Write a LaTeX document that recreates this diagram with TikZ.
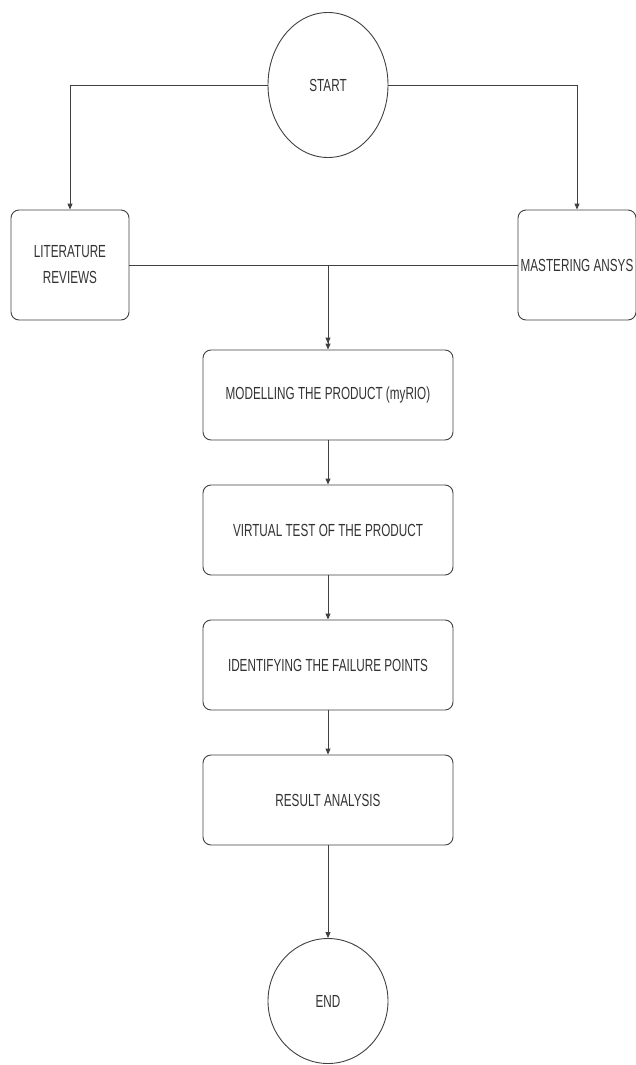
\documentclass[tikz,border=0pt]{standalone}
\usepackage{fontspec}
\setmainfont{Liberation Sans}[FakeStretch=0.67]
\usetikzlibrary{shapes.geometric}
\usetikzlibrary{arrows.meta}

\begin{document}
\begin{tikzpicture}[x=1pt,y=-1pt,
    line/.style={draw=black!75, line width=0.9pt},
    arr/.style={line, -{Triangle[length=6pt,width=5pt]}},
    arrtwo/.style={line, -{Triangle[length=6pt,width=5pt] Triangle[length=6pt,width=5pt]}},
    term/.style={ellipse, draw=black!75, line width=0.9pt, minimum width=120pt, inner sep=0pt},
    proc/.style={rectangle, rounded corners=8pt, draw=black!75, line width=0.9pt, minimum width=250pt, minimum height=90pt, inner sep=0pt},
    side/.style={proc, minimum width=118pt, minimum height=110pt, align=center},
    every node/.style={font=\fontsize{17.5}{26}\selectfont, text=black!80}]
    \useasboundingbox (0,0) rectangle (635,1065);

    \node[term, minimum height=145pt] (start) at (328,85) {START};
    \node[side] (lit) at (70,265) {LITERATURE\\REVIEWS};
    \node[side] (mast) at (577,265) {MASTERING ANSYS};

    \node[proc] (model) at (328,395) {MODELLING THE PRODUCT (myRIO)};
    \node[proc] (virt) at (328,530) {VIRTUAL TEST OF THE PRODUCT};
    \node[proc] (ident) at (328,665) {IDENTIFYING THE FAILURE POINTS};
    \node[proc] (res) at (328,800) {RESULT ANALYSIS};
    \node[term, minimum height=125pt] (end) at (328,1001) {END};

    \coordinate (join) at (model.north |- lit.east);

    \draw[arr] (start.west) -| (lit.north);
    \draw[arr] (start.east) -| (mast.north);
    \draw[line] (lit.east) -- (mast.west);
    \draw[arrtwo] (join) -- (model.north);

    \foreach \a/\b in {model/virt, virt/ident, ident/res, res/end}{
        \draw[arr] (\a.south) -- (\b.north);
    }
\end{tikzpicture}
\end{document}
